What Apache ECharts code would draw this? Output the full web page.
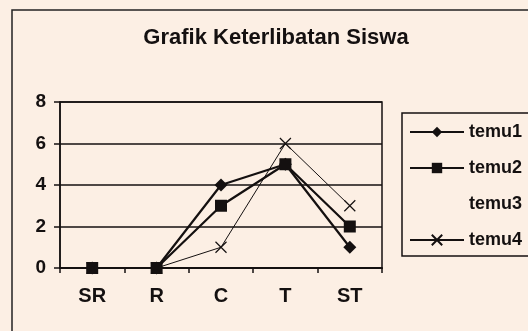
<!DOCTYPE html>
<html>
<head>
<meta charset="utf-8">
<script src="https://cdn.jsdelivr.net/npm/echarts@6/dist/echarts.min.js"></script>
<style>
  html, body { margin: 0; padding: 0; background: #fcefe4; }
  #chart { width: 528px; height: 331px; }
</style>
</head>
<body>
<div id="chart"></div>
<script>
// Categories and the score counts of each meeting
const categories = ['SR', 'R', 'C', 'T', 'ST'];
const temu1 = [0, 0, 4, 5, 1];
const temu2 = [0, 0, 3, 5, 2];
const temu3 = [null, null, null, null, null];
const temu4 = [0, 0, 1, 6, 3];
const yTicks = { min: 0, max: 8, interval: 2 };

const ink = '#141010';
const font = 'Liberation Sans, Arial, sans-serif';
const crossPath = 'path://M0,0L10,10M10,0L0,10';

const chart = echarts.init(document.getElementById('chart'));
chart.setOption({
  backgroundColor: '#fcefe4',
  animation: false,
  title: {
    text: 'Grafik Keterlibatan Siswa',
    left: 271,
    textAlign: 'center',
    top: 22,
    textStyle: { fontFamily: font, fontWeight: 'bold', fontSize: 22, color: ink }
  },
  graphic: [
    { type: 'rect', shape: { x: 12, y: 10, width: 560, height: 360 },
      style: { fill: 'none', stroke: '#222', lineWidth: 1.5 }, z: -1 },
    { type: 'rect', shape: { x: 402, y: 113, width: 200, height: 143 },
      style: { fill: 'none', stroke: ink, lineWidth: 1.5 } }
  ],
  legend: {
    orient: 'vertical',
    left: 409,
    top: 123,
    padding: 0,
    itemWidth: 54,
    itemHeight: 13,
    itemGap: 18,
    textStyle: { fontFamily: font, fontWeight: 'bold', fontSize: 18, lineHeight: 18, color: ink },
    data: ['temu1', 'temu2', 'temu3', 'temu4']
  },
  grid: { left: 60, right: 146, top: 102, bottom: 63, show: true, borderColor: ink, borderWidth: 1.5, backgroundColor: 'transparent' },
  xAxis: {
    type: 'category',
    data: categories,
    boundaryGap: true,
    axisLine: { lineStyle: { color: ink, width: 2 } },
    axisTick: { show: true, inside: false, length: 5, lineStyle: { color: ink, width: 1.5 } },
    axisLabel: { fontFamily: font, fontWeight: 'bold', fontSize: 20, color: ink, margin: 18 }
  },
  yAxis: {
    type: 'value',
    min: yTicks.min,
    max: yTicks.max,
    interval: yTicks.interval,
    axisLine: { show: true, lineStyle: { color: ink, width: 1.5 } },
    axisTick: { show: true, length: 6, lineStyle: { color: ink, width: 1.5 } },
    splitLine: { lineStyle: { color: ink, width: 1.5 } },
    axisLabel: { fontFamily: font, fontWeight: 'bold', fontSize: 19, color: ink, margin: 14 }
  },
  series: [
    { name: 'temu1', type: 'line', data: temu1, symbol: 'diamond', symbolSize: 13,
      lineStyle: { color: ink, width: 2.2 }, itemStyle: { color: ink } },
    { name: 'temu2', type: 'line', data: temu2, symbol: 'rect', symbolSize: 12,
      lineStyle: { color: ink, width: 2.2 }, itemStyle: { color: ink } },
    { name: 'temu3', type: 'line', data: temu3, symbol: 'none',
      lineStyle: { opacity: 0 }, itemStyle: { color: 'transparent' } },
    { name: 'temu4', type: 'line', data: temu4, symbol: crossPath, symbolSize: 11,
      lineStyle: { color: ink, width: 1 },
      itemStyle: { color: 'transparent', borderColor: ink, borderWidth: 1.2 } }
  ]
});
</script>
</body>
</html>
